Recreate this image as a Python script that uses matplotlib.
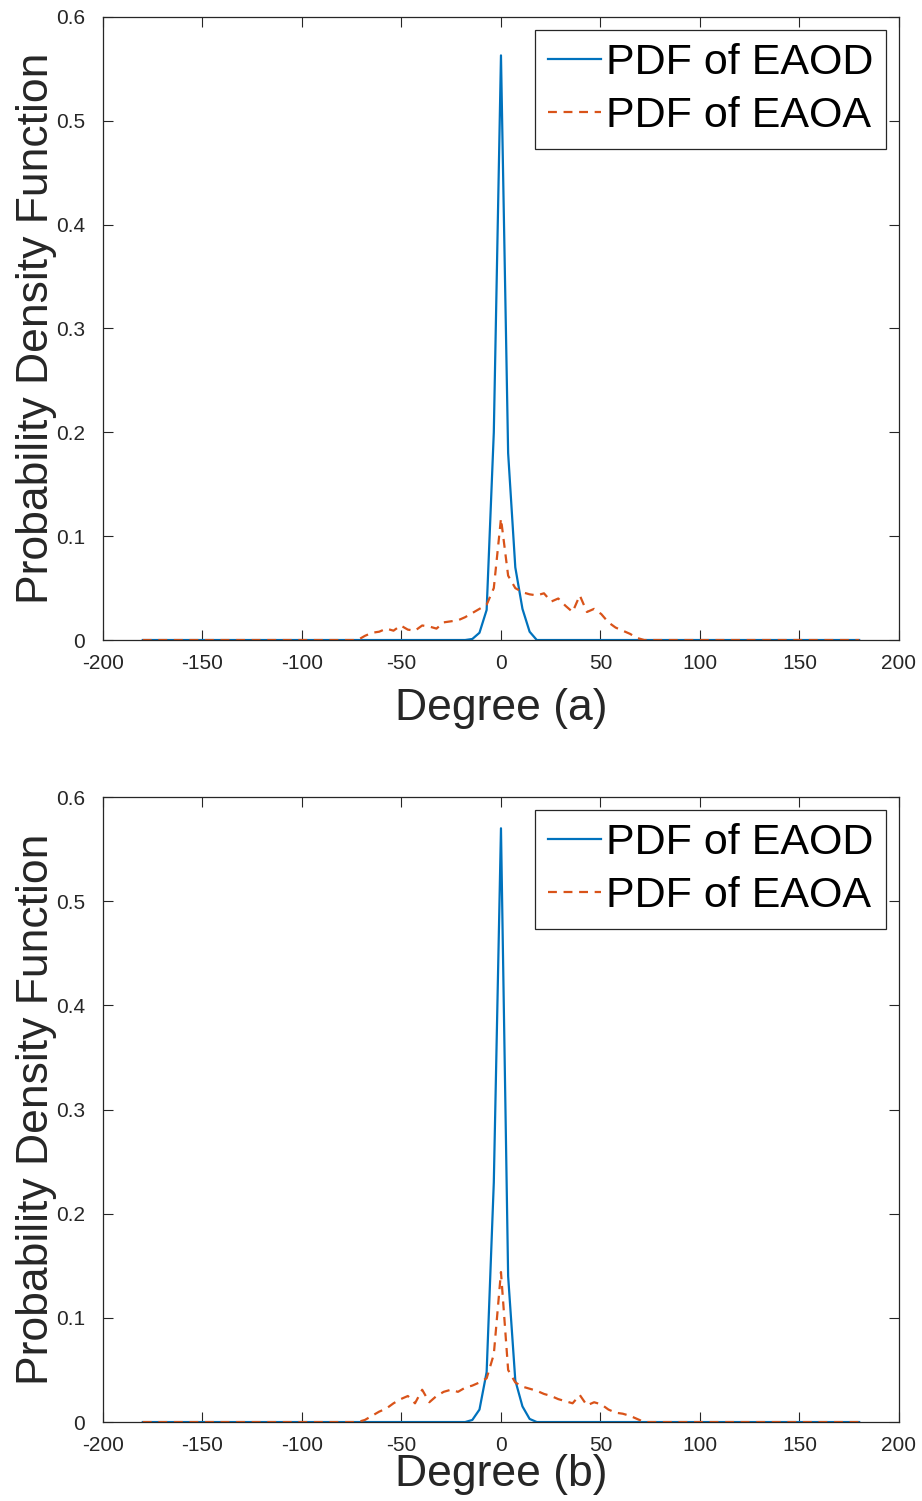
import numpy as np
import matplotlib
matplotlib.use("Agg")
import matplotlib.pyplot as plt

plt.rcParams['font.family'] = ['Liberation Sans', 'DejaVu Sans']
plt.rcParams['axes.unicode_minus'] = False

# degree grid, 3.6 deg bins from -180 to 180
degree = np.linspace(-180, 180, 101)

# non-zero part of the curves, from -72 to 72 deg (41 points, index 20 = 0 deg)
core = np.linspace(-72, 72, 41)

# (a)
eaod_a = [0, 0, 0, 0, 0, 0, 0, 0, 0, 0,
          0, 0, 0, 0, 0, 0, 0.001, 0.007, 0.029, 0.20,
          0.563, 0.18, 0.07, 0.03, 0.008, 0, 0, 0, 0, 0,
          0, 0, 0, 0, 0, 0, 0, 0, 0, 0, 0]
eaoa_a = [0, 0.004, 0.007, 0.008, 0.011, 0.009, 0.014, 0.010, 0.009, 0.014,
          0.013, 0.011, 0.017, 0.018, 0.019, 0.022, 0.026, 0.030, 0.034, 0.050,
          0.117, 0.062, 0.050, 0.046, 0.044, 0.043, 0.045, 0.037, 0.040, 0.033,
          0.027, 0.043, 0.027, 0.030, 0.025, 0.017, 0.012, 0.009, 0.006, 0.002, 0]

# (b)
eaod_b = [0, 0, 0, 0, 0, 0, 0, 0, 0, 0,
          0, 0, 0, 0, 0, 0, 0.002, 0.012, 0.048, 0.23,
          0.57, 0.14, 0.04, 0.015, 0.003, 0, 0, 0, 0, 0,
          0, 0, 0, 0, 0, 0, 0, 0, 0, 0, 0]
eaoa_b = [0, 0.002, 0.006, 0.010, 0.013, 0.018, 0.022, 0.025, 0.018, 0.031,
          0.019, 0.025, 0.029, 0.031, 0.029, 0.033, 0.035, 0.038, 0.042, 0.065,
          0.144, 0.050, 0.038, 0.034, 0.032, 0.030, 0.027, 0.025, 0.022, 0.020,
          0.018, 0.026, 0.016, 0.019, 0.017, 0.012, 0.009, 0.008, 0.006, 0.003, 0]

panels = [("Degree (a)", eaod_a, eaoa_a, 11), ("Degree (b)", eaod_b, eaoa_b, -1)]


def full(vals):
    out = np.zeros(len(degree))
    i0 = int(np.argmin(np.abs(degree - core[0])))
    out[i0:i0 + len(vals)] = vals
    return out


fig = plt.figure(figsize=(9.22, 15.01), dpi=100)
boxes = [[0.1117, 0.5736, 0.8633, 0.4151], [0.1117, 0.0526, 0.8633, 0.4164]]

for box, (xlab, eaod, eaoa, lpad) in zip(boxes, panels):
    ax = fig.add_axes(box)
    ax.plot(degree, full(eaod), color='#0072BD', lw=1.6, label='PDF of EAOD')
    ax.plot(degree, full(eaoa), color='#D95319', lw=1.6, ls=(0, (4, 3)), label='PDF of EAOA')
    ax.set_xlim(-200, 200)
    ax.set_ylim(0, 0.6)
    ax.set_xticks(np.arange(-200, 201, 50))
    ax.set_yticks(np.arange(0, 0.61, 0.1))
    ax.set_yticklabels(['0', '0.1', '0.2', '0.3', '0.4', '0.5', '0.6'])
    ax.tick_params(direction='in', top=True, right=True, length=7, width=0.8,
                   labelsize=15, colors='#262626')
    ax.tick_params(axis='x', pad=10)
    ax.tick_params(axis='y', pad=13)
    for s in ax.spines.values():
        s.set_color('#262626')
        s.set_linewidth(0.9)
    ax.set_xlabel(xlab, fontsize=32, color='#262626', labelpad=lpad)
    ax.set_ylabel('Probability Density Function', fontsize=32, color='#262626', labelpad=-1)
    leg = ax.legend(loc='upper right', fontsize=31, handlelength=1.25, handletextpad=0.1,
                    borderpad=0.3, labelspacing=0.3, borderaxespad=0.3, fancybox=False,
                    framealpha=1, edgecolor='#262626')
    leg.get_frame().set_linewidth(0.9)

fig.savefig('out.png', dpi=100)
